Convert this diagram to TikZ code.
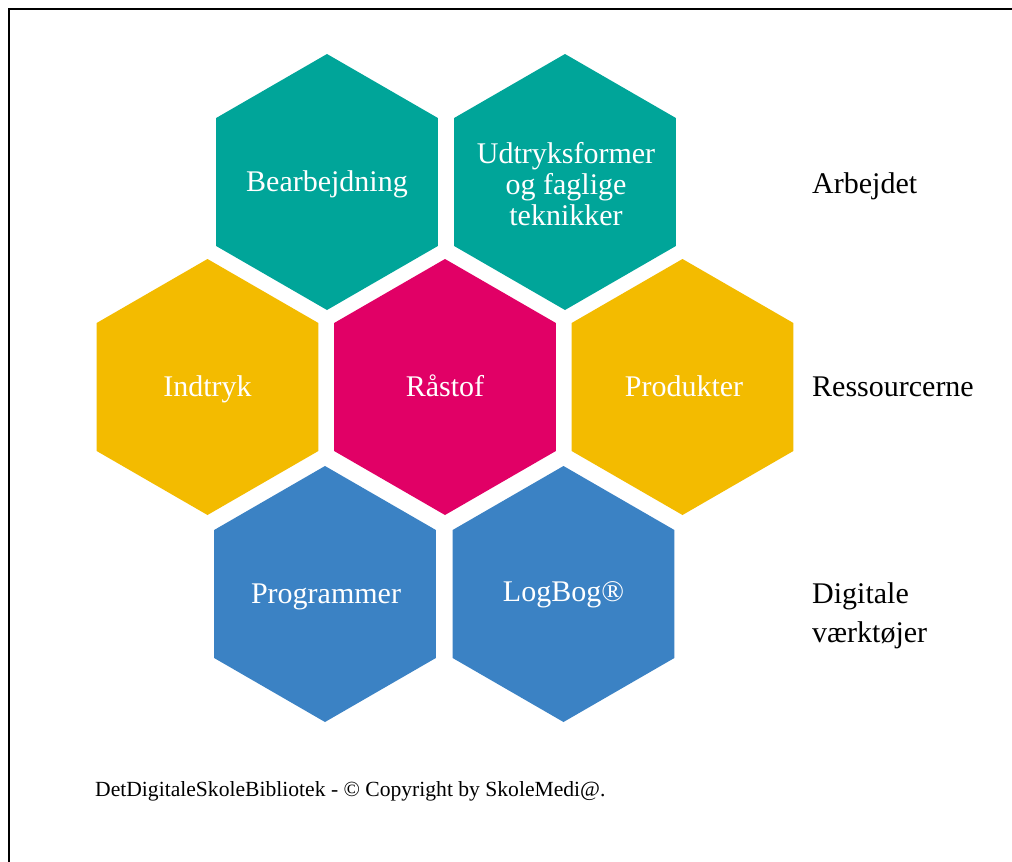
\documentclass[tikz,border=0pt]{standalone}
\usepackage{fontspec}
\setmainfont{Liberation Serif}
\definecolor{hteal}{RGB}{0,165,153}
\definecolor{hyellow}{RGB}{243,187,0}
\definecolor{hmagenta}{RGB}{225,0,102}
\definecolor{hblue}{RGB}{59,130,196}
\newcommand{\hexfill}[3]{\fill[#3] (#1,#2) +(90:128) -- +(150:128) -- +(210:128) -- +(270:128) -- +(330:128) -- +(30:128) -- cycle;}
\tikzset{
  hextext/.style={text=white, align=center, anchor=base, inner sep=0pt, font=\fontsize{30}{31}\selectfont},
  sidetext/.style={text=black, align=left, anchor=base west, inner sep=0pt, font=\fontsize{30}{39}\selectfont},
}
\begin{document}
\begin{tikzpicture}[x=1pt,y=-1pt]
\useasboundingbox (0,0) rectangle (1012,862);
\fill[white] (0,0) rectangle (1012,862);
\draw[line width=1.3pt] (1012,9) -- (9,9) -- (9,862);
% hexagons
\hexfill{327}{182}{hteal}
\hexfill{565}{182}{hteal}
\hexfill{207.5}{387}{hyellow}
\hexfill{445}{387}{hmagenta}
\hexfill{682.5}{387}{hyellow}
\hexfill{325}{594}{hblue}
\hexfill{563.5}{594}{hblue}
% hex labels (anchored at last baseline)
\node[hextext] (bear) at (327,191) {Bearbejdning};
\node[hextext] (udtr) at (566,225) {Udtryksformer\\og faglige\\teknikker};
\node[hextext] (indt) at (207.5,396) {Indtryk};
\node[hextext] (rast) at (445,396) {Råstof};
\node[hextext] (prod) at (684,396) {Produkter};
\node[hextext] (prog) at (326,603) {Programmer};
\node[hextext] (logb) at (563.5,601) {LogBog®};
% side labels
\node[sidetext] (arb) at (812,193) {Arbejdet};
\node[sidetext] (res) at (812,396) {Ressourcerne};
\node[sidetext] (dig) at (812,642) {Digitale\\værktøjer};
% footer
\node[anchor=base west, inner sep=0pt, font=\fontsize{21.6}{24}\selectfont] (foot) at (95,796) {DetDigitaleSkoleBibliotek - © Copyright by SkoleMedi@.};
\end{tikzpicture}
\end{document}
